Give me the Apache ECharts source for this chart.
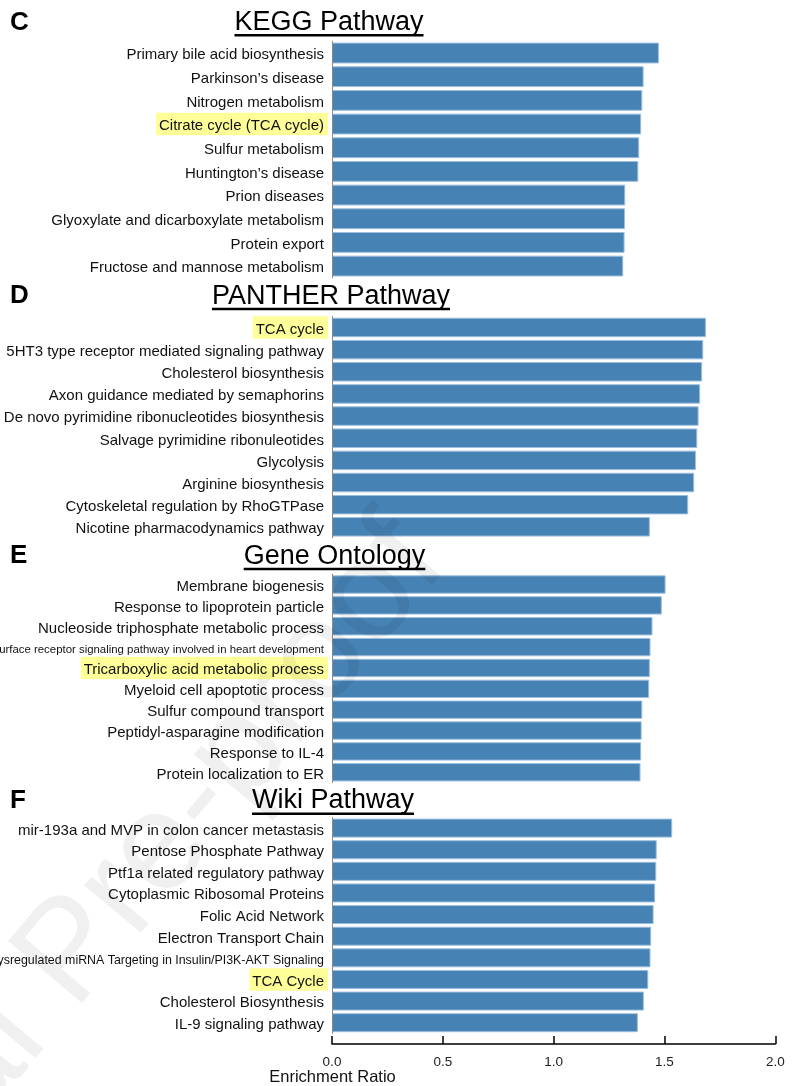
<!DOCTYPE html>
<html>
<head>
<meta charset="utf-8">
<title>Enrichment Ratio</title>
<script src="https://cdn.jsdelivr.net/npm/echarts@6/dist/echarts.min.js"></script>
<style>
  html, body { margin: 0; padding: 0; background: #fff; }
  #chart { width: 801px; height: 1086px; }
</style>
</head>
<body>
<div id="chart"></div>
<script>
// ---- enrichment results, top 10 terms per source ----
const keggTerms = [
  'Primary bile acid biosynthesis', 'Parkinson\u2019s disease', 'Nitrogen metabolism',
  'Citrate cycle (TCA cycle)', 'Sulfur metabolism', 'Huntington\u2019s disease',
  'Prion diseases', 'Glyoxylate and dicarboxylate metabolism', 'Protein export',
  'Fructose and mannose metabolism'
];
const keggRatio = [1.475, 1.406, 1.400, 1.395, 1.386, 1.382, 1.323, 1.322, 1.320, 1.314];

const pantherTerms = [
  'TCA cycle', '5HT3 type receptor mediated signaling pathway', 'Cholesterol biosynthesis',
  'Axon guidance mediated by semaphorins', 'De novo pyrimidine ribonucleotides biosynthesis',
  'Salvage pyrimidine ribonuleotides', 'Glycolysis', 'Arginine biosynthesis',
  'Cytoskeletal regulation by RhoGTPase', 'Nicotine pharmacodynamics pathway'
];
const pantherRatio = [1.687, 1.675, 1.670, 1.661, 1.654, 1.648, 1.642, 1.634, 1.607, 1.434];

const goTerms = [
  'Membrane biogenesis', 'Response to lipoprotein particle', 'Nucleoside triphosphate metabolic process',
  'Cell surface receptor signaling pathway involved in heart development',
  'Tricarboxylic acid metabolic process', 'Myeloid cell apoptotic process', 'Sulfur compound transport',
  'Peptidyl-asparagine modification', 'Response to IL-4', 'Protein localization to ER'
];
const goRatio = [1.505, 1.488, 1.446, 1.437, 1.434, 1.431, 1.400, 1.397, 1.395, 1.392];

const wikiTerms = [
  'mir-193a and MVP in colon cancer metastasis', 'Pentose Phosphate Pathway',
  'Ptf1a related regulatory pathway', 'Cytoplasmic Ribosomal Proteins', 'Folic Acid Network',
  'Electron Transport Chain', 'Dysregulated miRNA Targeting in Insulin/PI3K-AKT Signaling',
  'TCA Cycle', 'Cholesterol Biosynthesis', 'IL-9 signaling pathway'
];
const wikiRatio = [1.535, 1.465, 1.463, 1.458, 1.451, 1.440, 1.437, 1.427, 1.407, 1.380];

// TCA-related terms get a highlighted label
const tcaTerms = ['Citrate cycle (TCA cycle)', 'TCA cycle', 'Tricarboxylic acid metabolic process', 'TCA Cycle'];

// shared enrichment-ratio scale
const ratioTicks = [0, 0.5, 1.0, 1.5, 2.0];

// ---- layout and styling ----
const FONT = '"Liberation Sans", Arial, Helvetica, sans-serif';
const PLOT_LEFT = 332;
const PLOT_WIDTH = 443.3;

const panels = [
  { letter: 'C', title: 'KEGG Pathway',    terms: keggTerms,    ratio: keggRatio,    top: 41.2,  height: 236.7, titleY: 22.5,  titleX: 329 },
  { letter: 'D', title: 'PANTHER Pathway', terms: pantherTerms, ratio: pantherRatio, top: 316.4, height: 221.5, titleY: 296.2, titleX: 331 },
  { letter: 'E', title: 'Gene Ontology',   terms: goTerms,      ratio: goRatio,      top: 574.1, height: 208.6, titleY: 556.2, titleX: 334.5 },
  { letter: 'F', title: 'Wiki Pathway',    terms: wikiTerms,    ratio: wikiRatio,    top: 817.3, height: 216.2, titleY: 800.9, titleX: 333 }
];

// very long term names are set in a smaller type
const compactStyle = {
  'Cell surface receptor signaling pathway involved in heart development': 'c2',
  'Dysregulated miRNA Targeting in Insulin/PI3K-AKT Signaling': 'c1'
};

const labelPad = [6, 4, 1.5, 3];
const richStyles = {
  n:  { fontFamily: FONT, fontSize: 15,   color: '#111', lineHeight: 15, padding: labelPad },
  h:  { fontFamily: FONT, fontSize: 15,   color: '#111', lineHeight: 15, padding: labelPad, backgroundColor: '#ffff99' },
  c1: { fontFamily: FONT, fontSize: 12.4, color: '#111', lineHeight: 13, padding: labelPad },
  c2: { fontFamily: FONT, fontSize: 11.4, color: '#111', lineHeight: 12, padding: labelPad }
};

function termLabel(name) {
  const key = tcaTerms.includes(name) ? 'h' : (compactStyle[name] || 'n');
  return '{' + key + '|' + name + '}';
}

const grids = [], xAxes = [], yAxes = [], series = [];
panels.forEach((p, i) => {
  const isLast = i === panels.length - 1;
  grids.push({
    left: PLOT_LEFT, width: PLOT_WIDTH, top: p.top, height: p.height,
    containLabel: false, outerBoundsMode: 'none'
  });
  xAxes.push({
    gridIndex: i, type: 'value',
    min: ratioTicks[0], max: ratioTicks[ratioTicks.length - 1],
    interval: ratioTicks[1] - ratioTicks[0],
    show: isLast,
    offset: isLast ? 10.5 : 0,
    splitLine: { show: false },
    axisLine: { show: true, lineStyle: { color: '#000', width: 1.5 } },
    axisTick: { show: true, inside: true, length: 8, lineStyle: { color: '#000', width: 1.5 } },
    axisLabel: {
      show: true, margin: 11, fontFamily: FONT, fontSize: 13.5, color: '#222',
      formatter: v => v.toFixed(1)
    }
  });
  yAxes.push({
    gridIndex: i, type: 'category', data: p.terms, inverse: true, z: 5,
    axisLine: { show: true, lineStyle: { color: '#8a8a8a', width: 1 } },
    axisTick: { show: false },
    splitLine: { show: false },
    axisLabel: {
      show: true, interval: 0, margin: 4, align: 'right',
      formatter: termLabel, rich: richStyles
    }
  });
  series.push({
    type: 'bar', xAxisIndex: i, yAxisIndex: i, data: p.ratio,
    barCategoryGap: '12%', silent: true, animation: false,
    itemStyle: { color: '#4682b4', borderColor: '#9cbfdf', borderWidth: 1 }
  });
});

// panel letters, underlined titles, axis name and watermark
const measureCtx = document.createElement('canvas').getContext('2d');
const TITLE_FONT = '27px ' + FONT;
measureCtx.font = TITLE_FONT;

const graphics = [];
panels.forEach(p => {
  graphics.push({
    type: 'text', x: 10, y: p.titleY,
    style: { text: p.letter, font: 'bold 26px ' + FONT, fill: '#000',
             textAlign: 'left', textVerticalAlign: 'middle', align: 'left', verticalAlign: 'middle' }
  });
  graphics.push({
    type: 'text', x: p.titleX, y: p.titleY,
    style: { text: p.title, font: TITLE_FONT, fill: '#000',
             textAlign: 'center', textVerticalAlign: 'middle', align: 'center', verticalAlign: 'middle' }
  });
  const w = measureCtx.measureText(p.title).width;
  graphics.push({
    type: 'rect',
    shape: { x: p.titleX - w / 2, y: p.titleY + 11.5, width: w, height: 2.5 },
    style: { fill: '#000' }
  });
});
graphics.push({
  type: 'text', x: 332.5, y: 1077,
  style: { text: 'Enrichment Ratio', font: '16.5px ' + FONT, fill: '#111',
           textAlign: 'center', textVerticalAlign: 'middle', align: 'center', verticalAlign: 'middle' }
});
graphics.push({
  type: 'text', x: 420, y: 540, rotation: 50 * Math.PI / 180, z: 100, silent: true,
  style: { text: 'Journal Pre-proof', font: '140px ' + FONT, fill: 'rgba(0,0,0,0.06)',
           textAlign: 'right', textVerticalAlign: 'middle', align: 'right', verticalAlign: 'middle' }
});

const chart = echarts.init(document.getElementById('chart'), null, { renderer: 'canvas' });
chart.setOption({
  backgroundColor: '#fff',
  animation: false,
  grid: grids,
  xAxis: xAxes,
  yAxis: yAxes,
  series: series,
  graphic: { elements: graphics }
});
</script>
</body>
</html>
